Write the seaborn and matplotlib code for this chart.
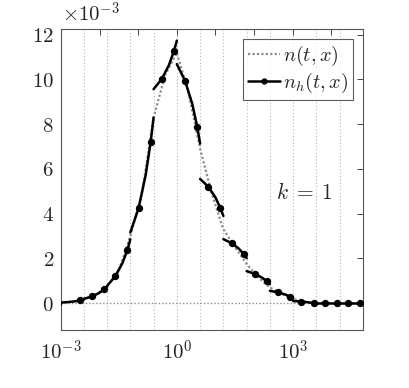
import numpy as np
import pandas as pd
import matplotlib
matplotlib.use("Agg")
import matplotlib.pyplot as plt
import seaborn as sns
from matplotlib.lines import Line2D
from matplotlib.ticker import NullLocator

# mesh cells [4^k, 4^(k+1)]; the first cell starts at x = 0
cell_k = list(range(-5, 8))
# n_h (units of 1e-3) read at fractions 0, gauss1, 0.5, gauss2, 1 of each cell
frac = [0.0, 0.211, 0.5, 0.789, 1.0]
nh_vals = [
    [0.00, 0.01, 0.065, 0.12, 0.16],
    [0.19, 0.30, 0.455, 0.61, 0.72],
    [0.77, 1.20, 1.79, 2.38, 2.85],
    [3.16, 4.24, 5.73, 7.21, 8.29],
    [9.56, 10.02, 10.64, 11.27, 11.73],
    [10.68, 9.93, 8.91, 7.88, 7.13],
    [5.55, 5.20, 4.72, 4.24, 3.89],
    [2.86, 2.68, 2.44, 2.19, 2.01],
    [1.43, 1.31, 1.14, 0.97, 0.85],
    [0.55, 0.48, 0.385, 0.29, 0.22],
    [0.095, 0.07, 0.035, 0.00, -0.02],
    [0.00, 0.00, 0.00, 0.00, 0.00],
    [0.00, 0.00, 0.00, 0.00, 0.00],
]
# exact solution n(t,x) (units of 1e-3) at x = 4^u
exact_u = np.arange(-5, 8.5, 0.5)
exact_vals = [0.02, 0.06, 0.16, 0.37, 0.75, 1.45, 3.0, 4.9, 8.3, 10.2, 11.2,
              9.4, 6.9, 4.9, 3.3, 2.5, 1.75, 1.15, 0.7, 0.42, 0.18, 0.06,
              0.01, 0.0, 0.0, 0.0, 0.0]

# ── build tables ───────────────────────────────────────────
rows = []
for i, k in enumerate(cell_k):
    a = 0.0 if i == 0 else 4.0 ** k
    b = 4.0 ** (k + 1)
    for j, f in enumerate(frac):
        x = a + (b - a) * f
        if x <= 0:
            continue
        rows.append({"cell": i, "x": x, "n": nh_vals[i][j],
                     "gauss": j in (1, 3)})
df_h = pd.DataFrame(rows)
df_ex = pd.DataFrame({"x": 4.0 ** exact_u, "n": exact_vals})

# ── style ──────────────────────────────────────────────────
sns.set_style("white")
plt.rcParams["mathtext.fontset"] = "cm"
plt.rcParams["font.family"] = ["DejaVu Serif"]
FS = 15

fig = plt.figure(figsize=(4.09, 3.88), dpi=100)
ax = fig.add_axes([0.149, 0.1495, 0.7384, 0.7758])
ax.set_xscale("log")

for k in range(-4, 8):
    ax.axvline(4.0 ** k, color="#b5b5b5", ls=(0, (1, 2)), lw=0.8, zorder=0)
ax.axhline(0, color="#8c8c8c", ls=(0, (1, 1.5)), lw=1.0, zorder=1)

sns.lineplot(data=df_ex, x="x", y="n", ax=ax, color="#8c8c8c",
             lw=1.6, sort=False, estimator=None, zorder=2)
ax.lines[-1].set_linestyle((0, (1, 1)))
sns.lineplot(data=df_h, x="x", y="n", units="cell", estimator=None,
             sort=False, ax=ax, color="black", lw=1.8, zorder=3)
sns.scatterplot(data=df_h[df_h["gauss"]], x="x", y="n", ax=ax,
                color="black", s=28, linewidth=0, zorder=4)

ax.set_xlim(1e-3, 4.0 ** 8)
ax.set_ylim(-1.2, 12.25)

dec = [10.0 ** e for e in range(-3, 5)]
ax.set_xticks(dec)
ax.set_xticklabels([f"$10^{{{e}}}$" if e % 3 == 0 else ""
                    for e in range(-3, 5)], fontsize=FS)
ax.xaxis.set_minor_locator(NullLocator())
yt = list(range(0, 13, 2))
ax.set_yticks(yt)
ax.set_yticklabels([f"${v}$" for v in yt], fontsize=FS)
ax.tick_params(direction="in", top=True, right=True, length=4,
               width=0.7, color="#444444", labelcolor="#262626")
ax.tick_params(axis="x", pad=7)
ax.tick_params(axis="y", pad=5)
ax.set_xlabel("")
ax.set_ylabel("")
for sp in ax.spines.values():
    sp.set_color("#555555")
    sp.set_linewidth(0.8)

ax.text(0.005, 1.012, r"$\times 10^{-3}$", transform=ax.transAxes,
        ha="left", va="bottom", fontsize=FS, color="#262626")
ax.text(0.805, 0.455, r"$k\;=\;1$", transform=ax.transAxes,
        ha="center", va="center", fontsize=15.5)

handles = [Line2D([], [], color="#8c8c8c", ls=(0, (1, 1)), lw=1.6),
           Line2D([], [], color="black", lw=1.8, marker=".",
                  markersize=7)]
leg = ax.legend(handles, [r"$n(t,x)$", r"$n_h(t,x)$"], loc="upper right",
                fontsize=14.5, frameon=True, fancybox=False,
                borderaxespad=0.5, handlelength=1.6, handletextpad=0.15,
                labelspacing=0.15, borderpad=0.25)
leg.get_frame().set_edgecolor("#333333")
leg.get_frame().set_linewidth(0.8)

fig.savefig("out.png", dpi=100)
